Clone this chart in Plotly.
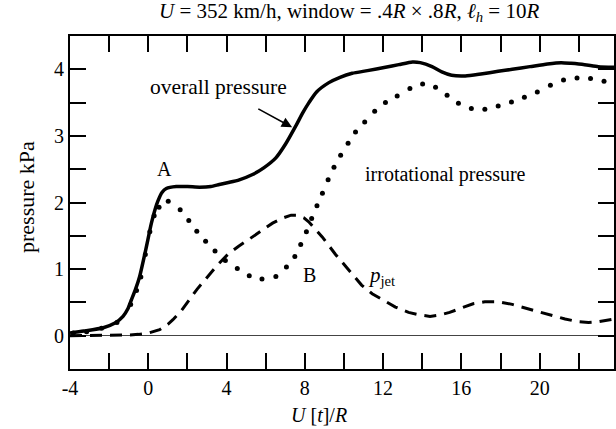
import plotly.graph_objects as go

# ---- data ----
overall_x = [-4.0, -3.3, -2.3, -1.7, -1.29, -1.05, -0.86, -0.65, -0.44, -0.13, 0.16, 0.35, 0.49, 0.7, 0.92,
             1.43, 2.0, 2.62, 3.2, 3.63, 4.1, 4.65, 5.33, 5.9, 6.52, 7.0, 7.54, 7.9, 8.21, 8.6, 9.23, 9.8,
             10.42, 11.2, 12.12, 12.8, 13.5, 13.9, 14.5, 15.0, 15.5, 16.2, 17.0, 17.88, 18.6, 19.5, 20.4,
             21.1, 21.6, 22.3, 23.0, 23.8]
overall_y = [0.04, 0.07, 0.12, 0.19, 0.29, 0.40, 0.54, 0.70, 0.89, 1.29, 1.69, 1.90, 2.02, 2.15, 2.21,
             2.24, 2.24, 2.23, 2.24, 2.27, 2.30, 2.34, 2.42, 2.52, 2.67, 2.87, 3.15, 3.35, 3.50, 3.66, 3.80, 3.88,
             3.94, 3.98, 4.03, 4.07, 4.11, 4.10, 4.04, 3.96, 3.91, 3.90, 3.93, 3.97, 4.00, 4.04, 4.08,
             4.10, 4.09, 4.07, 4.04, 4.03]

irrot_x = [-3.83, -3.15, -2.39, -1.6, -0.9, -0.6, -0.38, -0.15, 0.08, 0.3, 0.55, 1.02, 1.63, 2.07, 2.48, 2.93,
           3.41, 3.94, 4.55, 5.16, 5.81, 6.52, 7.06, 7.49, 7.79, 8.08, 8.35, 8.62, 8.9, 9.19, 9.49,
           9.83, 10.21, 10.59, 11.06, 11.57, 12.12, 12.72, 13.37, 14.02, 14.68, 15.27, 15.85, 16.51,
           17.2, 17.88, 18.56, 19.22, 19.88, 20.55, 21.22, 21.91, 22.6, 23.29]
irrot_y = [0.04, 0.06, 0.11, 0.20, 0.47, 0.68, 0.88, 1.22, 1.56, 1.80, 1.93, 2.02, 1.89, 1.73, 1.57, 1.42,
           1.27, 1.13, 1.01, 0.90, 0.85, 0.89, 1.03, 1.19, 1.37, 1.56, 1.76, 1.95, 2.14, 2.34, 2.53,
           2.71, 2.89, 3.06, 3.21, 3.37, 3.50, 3.60, 3.71, 3.78, 3.73, 3.61, 3.49, 3.41,
           3.40, 3.45, 3.51, 3.58, 3.66, 3.76, 3.84, 3.87, 3.86, 3.82]

jet_x = [-4.0, -3.0, -2.0, -1.0, -0.5, 0.0, 0.58, 1.0, 1.26, 1.7, 2.1, 2.5, 2.96, 3.5, 4.06, 4.6, 5.16,
         5.8, 6.35, 6.9, 7.3, 7.6, 7.95, 8.2, 8.47, 8.9, 9.57, 10.0, 10.42, 10.9, 11.44, 12.0, 12.63,
         13.3, 13.9, 14.4, 14.9, 15.4, 16.0, 16.6, 17.2, 17.9, 18.6, 19.24, 19.9, 20.6, 21.3, 22.0,
         22.5, 23.0, 23.8]
jet_y = [0.0, 0.0, 0.0, 0.01, 0.02, 0.04, 0.09, 0.17, 0.24, 0.38, 0.54, 0.70, 0.86, 1.05, 1.22, 1.34, 1.45,
         1.58, 1.69, 1.77, 1.81, 1.81, 1.77, 1.71, 1.62, 1.48, 1.22, 1.07, 0.91, 0.76, 0.63, 0.53, 0.43,
         0.35, 0.31, 0.29, 0.31, 0.35, 0.42, 0.48, 0.51, 0.51, 0.47, 0.42, 0.37, 0.31, 0.25, 0.21,
         0.20, 0.21, 0.25]

x_tick_vals = [-4, -2, 0, 2, 4, 6, 8, 10, 12, 14, 16, 18, 20, 22]
x_tick_text = ["-4", " ", "0", " ", "4", " ", "8", " ", "12", " ", "16", " ", "20", " "]
y_tick_vals = [0, 0.5, 1, 1.5, 2, 2.5, 3, 3.5, 4]
y_tick_text = ["0", " ", "1", " ", "2", " ", "3", " ", "4"]

FONT = "Liberation Serif"
CLEAR = "rgba(0,0,0,0)"

fig = go.Figure()
fig.add_trace(go.Scatter(x=jet_x, y=jet_y, mode="lines", line=dict(color="black", width=3, dash="12px,8px"),
                         showlegend=False, hoverinfo="skip"))
fig.add_trace(go.Scatter(x=irrot_x, y=irrot_y, mode="markers", marker=dict(color="black", size=5),
                         showlegend=False, hoverinfo="skip"))
fig.add_trace(go.Scatter(x=overall_x, y=overall_y, mode="lines",
                         line=dict(color="black", width=3.5, shape="spline", smoothing=0.6),
                         showlegend=False, hoverinfo="skip"))

fig.update_layout(
    width=616, height=429,
    margin=dict(l=70, r=0, t=36, b=60),
    paper_bgcolor="white", plot_bgcolor="white",
    xaxis=dict(range=[-4, 23.8], tickmode="array", tickvals=x_tick_vals,
               ticktext=x_tick_text, ticks="inside", ticklen=16, tickwidth=2, tickcolor="#000000",
               tickfont=dict(family=FONT, size=20, color="#000000"), mirror="ticks",
               showline=True, linecolor="#000000", linewidth=2, gridcolor=CLEAR, zerolinecolor=CLEAR),
    yaxis=dict(range=[-0.5, 4.5], tickmode="array", tickvals=y_tick_vals,
               ticktext=y_tick_text, ticks="inside", ticklen=16, tickwidth=2, tickcolor="#000000",
               tickfont=dict(family=FONT, size=20, color="#000000"), mirror="ticks",
               showline=True, linecolor="#000000", linewidth=2, gridcolor=CLEAR,
               zeroline=True, zerolinecolor="#444444", zerolinewidth=1.2),
    annotations=[
        dict(text="<i>U</i> = 352 km/h, window = .4<i>R</i> × .8<i>R</i>, <i>ℓ</i><sub><i>h</i></sub> = 10<i>R</i>",
             xref="paper", yref="paper", x=0.513, y=1.072, showarrow=False,
             font=dict(size=21, family=FONT, color="black"), xanchor="center", yanchor="middle"),
        dict(text="<i>U</i> [<i>t</i>]/<i>R</i>", xref="paper", yref="paper", x=0.458, y=-0.137,
             showarrow=False, font=dict(size=20, family=FONT, color="black"), xanchor="center", yanchor="middle"),
        dict(text="pressure kPa", xref="paper", yref="paper", x=-0.0788, y=0.517, textangle=-90,
             showarrow=False, font=dict(size=22, family=FONT, color="black"), xanchor="center", yanchor="middle"),
        dict(text="overall pressure", x=3.58, y=3.73, showarrow=False,
             font=dict(size=21.5, family=FONT, color="black")),
        dict(text=" ", x=7.35, y=3.13, ax=5.47, ay=3.43, axref="x", ayref="y", showarrow=True,
             arrowhead=2, arrowsize=1.3, arrowwidth=1.6, arrowcolor="black"),
        dict(text="A", x=0.81, y=2.51, showarrow=False, font=dict(size=20, family=FONT, color="black")),
        dict(text="B", x=8.26, y=0.91, showarrow=False, font=dict(size=20, family=FONT, color="black")),
        dict(text="irrotational pressure", x=15.19, y=2.42, showarrow=False,
             font=dict(size=20, family=FONT, color="black")),
        dict(text="<i>p</i><sub>jet</sub>", x=11.93, y=0.89, showarrow=False,
             font=dict(size=21, family=FONT, color="black")),
    ],
)

fig.write_html("out.html")
